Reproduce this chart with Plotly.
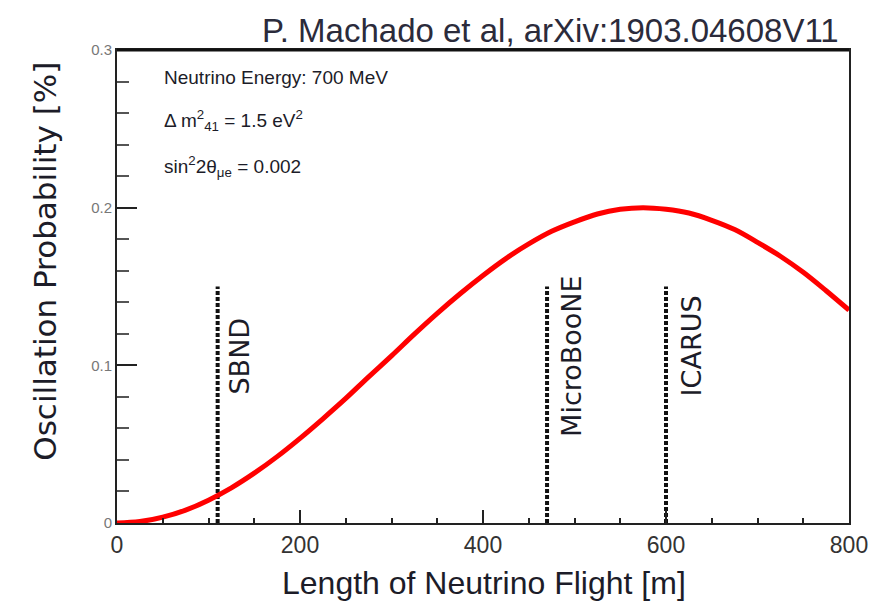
import plotly.graph_objects as go

# Oscillation probability curve (L in m, P in %)
flight_length_m = [0, 25, 50, 75, 100, 125, 150, 175, 200, 225, 250, 275, 300, 325, 350,
                   375, 400, 425, 450, 475, 500, 525, 550, 575, 600, 625, 650, 675, 700,
                   725, 750, 775, 800]
probability_pct = [0.0, 0.0009, 0.0037, 0.0082, 0.0145, 0.0223, 0.0316, 0.0421, 0.0537,
                   0.0661, 0.0790, 0.0927, 0.1060, 0.1198, 0.1330, 0.1454, 0.1570, 0.1677,
                   0.1770, 0.1850, 0.1910, 0.1960, 0.1990, 0.2000, 0.1990, 0.1966, 0.1920,
                   0.1861, 0.1780, 0.1692, 0.1590, 0.1473, 0.1350]

# Detector positions
detector_names = ["SBND", "MicroBooNE", "ICARUS"]
detector_pos_m = [110, 470, 600]
detector_line_top = 0.15
detector_label_y = [0.106, 0.106, 0.112]

x_tick_vals = [0, 200, 400, 600, 800]
x_tick_text = ["0", "200", "400", "600", "800"]
y_tick_vals = [0, 0.1, 0.2, 0.3]
y_tick_text = ["0", "0.1", "0.2", "0.3"]

info_lines = ["Neutrino Energy: 700 MeV",
              "Δ m<sup>2</sup><sub>41</sub> = 1.5 eV<sup>2</sup>",
              "sin<sup>2</sup>2θ<sub>μe</sub> = 0.002"]
credit = "P. Machado et al, arXiv:1903.04608V11"
x_title = "Length of Neutrino Flight [m]"
y_title = "Oscillation Probability [%]"

HFONT = "Liberation Sans, Arial"
VFONT = "DejaVu Sans, Liberation Sans"
TXT = "#1c1c28"

fig = go.Figure()

for name, pos in zip(detector_names, detector_pos_m):
    fig.add_trace(go.Scatter(
        x=[pos, pos], y=[0, detector_line_top], mode="lines",
        line=dict(color="#111111", width=4, dash="4px,2px"),
        showlegend=False, hoverinfo="skip"))

fig.add_trace(go.Scatter(
    x=flight_length_m, y=probability_pct, mode="lines",
    line=dict(color="#ff0000", width=5, shape="spline"),
    showlegend=False))

label_shift = [22, 25, 25]
for name, pos, ly, sh in zip(detector_names, detector_pos_m, detector_label_y, label_shift):
    fig.add_annotation(x=pos, y=ly, xref="x", yref="y", text=name, showarrow=False,
                       textangle=-90, xanchor="center", yanchor="middle", xshift=sh,
                       font=dict(family=VFONT, size=27, color=TXT))

info_y = [0.941, 0.850, 0.753]
for t, yy in zip(info_lines, info_y):
    fig.add_annotation(x=0.061, y=yy, xref="paper", yref="paper", text=t, showarrow=False,
                       xanchor="left", yanchor="middle",
                       font=dict(family=HFONT, size=19, color=TXT))

fig.add_annotation(x=0.989, y=1.042, xref="paper", yref="paper", text=credit,
                   showarrow=False, xanchor="right", yanchor="middle",
                   font=dict(family=HFONT, size=33, color="#2b2b3b"))

fig.add_annotation(x=0.501, y=-0.127, xref="paper", yref="paper", text=x_title,
                   showarrow=False, xanchor="center", yanchor="middle",
                   font=dict(family=HFONT, size=32, color=TXT))

fig.add_annotation(x=-0.098, y=0.553, xref="paper", yref="paper", text=y_title,
                   showarrow=False, textangle=-90, xanchor="center", yanchor="middle",
                   font=dict(family=VFONT, size=31, color=TXT))

# thicker top frame line
fig.add_shape(type="line", xref="paper", yref="paper", x0=0, x1=1, y0=1, y1=1,
              line=dict(color="#111111", width=3))

fig.update_xaxes(range=[0, 800], tickvals=x_tick_vals, ticktext=x_tick_text,
                 ticks="inside", ticklen=13, tickwidth=1.5, tickcolor="#222222",
                 minor=dict(dtick=50, ticks="inside", ticklen=5, tickwidth=1.5,
                            tickcolor="#222222"),
                 showline=True, linecolor="#222222", linewidth=2, mirror=True,
                 showgrid=False, zeroline=False,
                 tickfont=dict(family=HFONT, size=23, color="#333333"))
fig.update_yaxes(range=[0, 0.3], tickvals=y_tick_vals, ticktext=y_tick_text,
                 ticks="inside", ticklen=20, tickwidth=1.5, tickcolor="#222222",
                 minor=dict(dtick=0.02, ticks="inside", ticklen=12, tickwidth=1.5,
                            tickcolor="#555555"),
                 showline=True, linecolor="#222222", linewidth=2, mirror=True,
                 showgrid=False, zeroline=False,
                 tickfont=dict(family=HFONT, size=15, color="#777777"))

fig.update_layout(width=880, height=605, margin=dict(l=117, r=27, t=50, b=82),
                  plot_bgcolor="white", paper_bgcolor="white")

fig.write_html("out.html")
